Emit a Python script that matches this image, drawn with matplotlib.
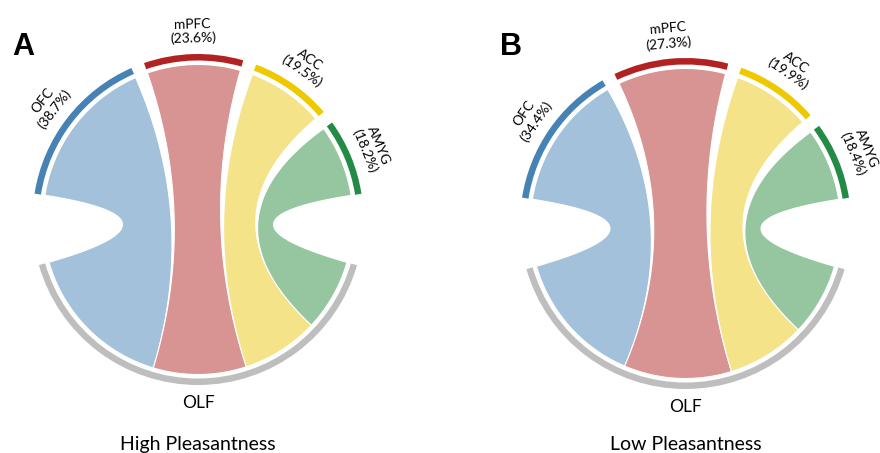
import numpy as np
import matplotlib
matplotlib.use("Agg")
from matplotlib import pyplot as plt
from matplotlib.patches import Wedge, Polygon

# Regions linked to the olfactory cortex (OLF), in drawing order
regions = ["OFC", "mPFC", "ACC", "AMYG"]
share_high = [38.7, 23.6, 19.5, 18.2]
share_low = [34.4, 27.3, 19.9, 18.4]
titles = ["High Pleasantness", "Low Pleasantness"]
panel_letters = ["A", "B"]

ring_colors = ["#4682B4", "#B22222", "#EEC900", "#238B45"]
chord_colors = ["#A3C1DA", "#D89393", "#F5E38A", "#95C6A0"]
olf_color = "#BEBEBE"

FONT = "Lato"
W, H = 880, 453

# layout (pixel coordinates, y up)
R_CHORD = 155.0
R_RING_IN = 159.0
R_RING_OUT = 165.5
BIG_GAP = 25.0
SMALL_GAP = 4.7
TOP_START = 171.0  # angle where OFC begins


def arc_points(r, a0, a1, cx, cy, n=80):
    t = np.radians(np.linspace(a0, a1, n))
    return np.column_stack([cx + r * np.cos(t), cy + r * np.sin(t)])


def bezier_points(p0, p2, ctrl, n=80):
    t = np.linspace(0, 1, n)[:, None]
    return (1 - t) ** 2 * p0 + 2 * (1 - t) * t * ctrl + t ** 2 * p2


def draw_chord(ax, shares, cx, cy, title, letter, title_y):
    span = (360 - 2 * BIG_GAP - 3 * SMALL_GAP) / 2
    total = sum(shares)
    centre = np.array([cx, cy])

    # upper sectors run clockwise from TOP_START
    upper = []
    a = TOP_START
    for s in shares:
        w = span * s / total
        upper.append((a, a - w))
        a -= w + SMALL_GAP

    # OLF sector runs counter-clockwise from the left side
    olf_start = TOP_START + BIG_GAP
    lower = []
    b = olf_start
    for s in shares:
        w = span * s / total
        lower.append((b, b + w))
        b += w

    for i, name in enumerate(regions):
        hi, lo = upper[i]
        b_lo, b_hi = lower[i]

        pts_top = arc_points(R_CHORD, hi, lo, cx, cy)
        pts_bot = arc_points(R_CHORD, b_hi, b_lo, cx, cy)
        link1 = bezier_points(pts_top[-1], pts_bot[0], centre)
        link2 = bezier_points(pts_bot[-1], pts_top[0], centre)
        poly = np.vstack([pts_top, link1, pts_bot, link2])
        ax.add_patch(Polygon(poly, closed=True, facecolor=chord_colors[i],
                             edgecolor="white", linewidth=0.8, zorder=2))

        ax.add_patch(Wedge((cx, cy), R_RING_OUT, lo, hi,
                           width=R_RING_OUT - R_RING_IN,
                           facecolor=ring_colors[i], edgecolor="none", zorder=3))

        mid = (hi + lo) / 2
        rot = mid - 90
        for r, txt in [(195.5, name), (181, f"({shares[i]}%)")]:
            x = cx + r * np.cos(np.radians(mid))
            y = cy + r * np.sin(np.radians(mid))
            ax.text(x, y, txt, rotation=rot, rotation_mode="anchor",
                    ha="center", va="center", fontsize=10, family=FONT)

    ax.add_patch(Wedge((cx, cy), R_RING_OUT, olf_start, olf_start + span,
                       width=R_RING_OUT - R_RING_IN,
                       facecolor=olf_color, edgecolor="none", zorder=3))
    ax.text(cx, cy - 184, "OLF", ha="center", va="center", fontsize=12.5,
            family=FONT)

    ax.text(cx, title_y, title, ha="center", va="baseline", fontsize=14,
            family=FONT)
    ax.text(cx - 186, H - 55, letter, ha="left", va="baseline", fontsize=22,
            fontweight="bold", family="Liberation Sans")


fig = plt.figure(figsize=(W / 100, H / 100), dpi=100)
ax = fig.add_axes([0, 0, 1, 1])
ax.set_xlim(0, W)
ax.set_ylim(0, H)
ax.axis("off")

draw_chord(ax, share_high, 198, H - 219.5, titles[0], panel_letters[0], H - 450)
draw_chord(ax, share_low, 685.5, H - 223.5, titles[1], panel_letters[1], H - 450)

fig.savefig("out.png", dpi=100)
